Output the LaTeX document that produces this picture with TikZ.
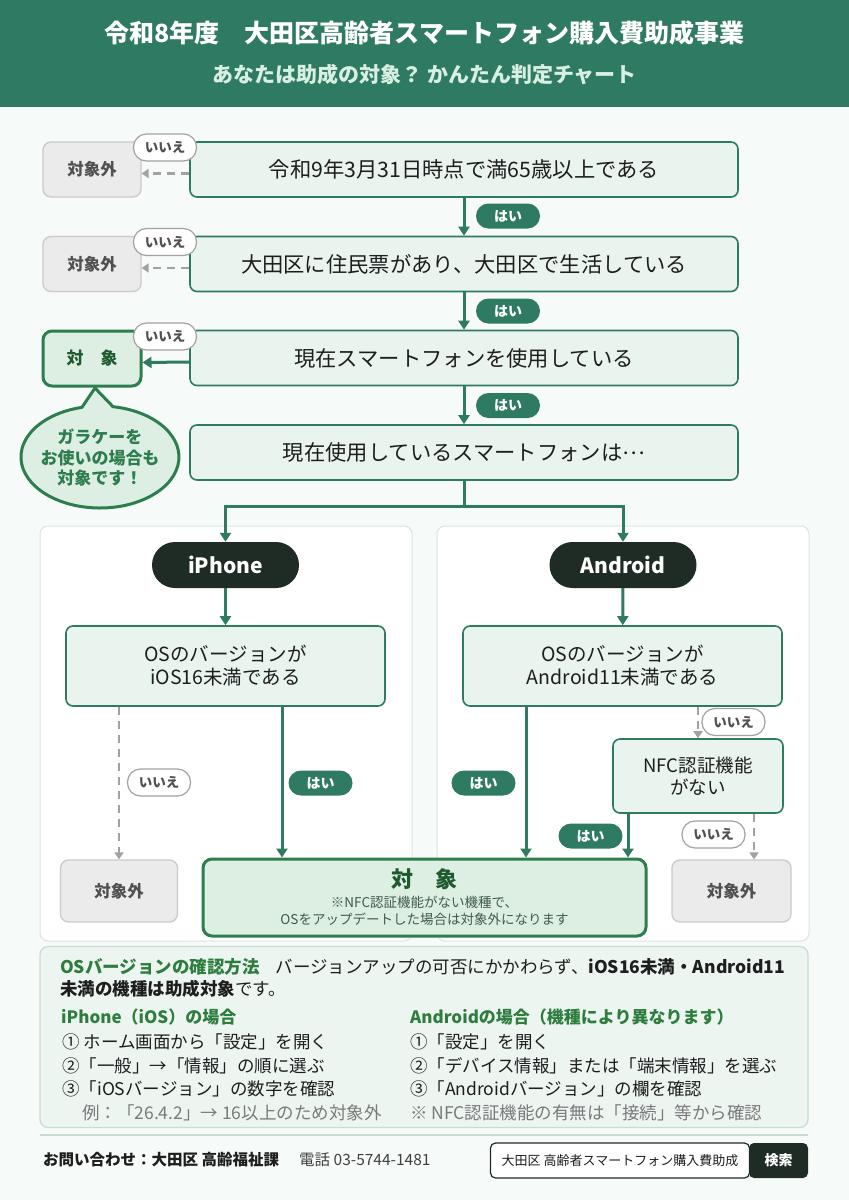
\documentclass[tikz,border=0pt]{standalone}
\usepackage{fontspec}
\setmainfont{Noto Sans CJK JP}
\usetikzlibrary{arrows.meta,shapes.geometric}
\definecolor{hdr}{HTML}{2F7A62}
\definecolor{bg}{HTML}{F6FAF8}
\definecolor{boxfill}{HTML}{E9F4EE}
\definecolor{ink}{HTML}{1E1E1E}
\definecolor{subt}{HTML}{D8EFE3}
\definecolor{grayfill}{HTML}{EBEBEB}
\definecolor{graybd}{HTML}{CACACA}
\definecolor{graytxt}{HTML}{505050}
\definecolor{grayarr}{HTML}{A2A2A2}
\definecolor{okfill}{HTML}{DDEFE2}
\definecolor{okbd}{HTML}{2E7D4F}
\definecolor{oktxt}{HTML}{1F5A2E}
\definecolor{dark}{HTML}{1F2B25}
\definecolor{panelbd}{HTML}{DCE4DF}
\definecolor{infofill}{HTML}{EDF5F1}
\definecolor{infobd}{HTML}{C8DDD2}
\definecolor{hg}{HTML}{2E7D3E}
\definecolor{notetxt}{HTML}{3F5C4B}
\definecolor{exgray}{HTML}{7A7A7A}
\tikzset{
  q/.style={draw=hdr, line width=1.6pt, fill=boxfill, rounded corners=7pt, inner sep=0pt,
    text=ink, font=\fontsize{21.3}{26}\selectfont, align=center},
  qs/.style={q, font=\fontsize{19.5}{23}\selectfont},
  outbox/.style={draw=graybd, line width=1.3pt, fill=grayfill, rounded corners=8pt, inner sep=0pt,
    text=graytxt, font=\bfseries\fontsize{16.5}{20}\selectfont},
  okbox/.style={draw=okbd, line width=3pt, fill=okfill, rounded corners=9pt, inner sep=0pt},
  nolab/.style={draw=grayarr, line width=1.2pt, fill=white, rounded corners=13pt, inner sep=0pt,
    minimum width=63pt, minimum height=27pt, text=graytxt, font=\bfseries\fontsize{13.5}{16}\selectfont},
  yeslab/.style={fill=hdr, rounded corners=12.5pt, inner sep=0pt,
    minimum width=64pt, minimum height=25pt, text=white, font=\bfseries\fontsize{14}{16}\selectfont},
  devpill/.style={fill=dark, rounded corners=23pt, inner sep=0pt, minimum width=147pt, minimum height=46pt,
    text=white, font=\bfseries\fontsize{21}{25}\selectfont},
  panel/.style={draw=panelbd, line width=1pt, fill=white, rounded corners=8pt, inner sep=0pt},
  arr/.style={draw=hdr, line width=3pt, -{Triangle[length=9pt,width=11pt]}},
  gline/.style={draw=hdr, line width=3pt},
  darr/.style={draw=grayarr, line width=2.5pt, dash pattern=on 8pt off 6pt, -{Triangle[length=7pt,width=9pt]}},
  infotxt/.style={anchor=west, inner sep=0pt, text=ink, font=\fontsize{17.5}{21}\selectfont},
}
\begin{document}
\begin{tikzpicture}[x=1pt,y=-1pt]
\useasboundingbox (0,0) rectangle (849,1200);
\fill[bg] (0,0) rectangle (849,1200);
\fill[hdr] (0,0) rectangle (849,107);
\node[font=\bfseries\fontsize{25}{30}\selectfont, text=white] (title) at (424.5,33) {令和8年度　大田区高齢者スマートフォン購入費助成事業};
\node[font=\bfseries\fontsize{21}{25}\selectfont, text=subt] (sub) at (424.5,75) {あなたは助成の対象？ かんたん判定チャート};

% panels
\node[panel, minimum width=372pt, minimum height=415pt] (pL) at (226,733.5) {};
\node[panel, minimum width=372pt, minimum height=415pt] (pR) at (623,733.5) {};

% main questions
\node[q, minimum width=548pt, minimum height=55pt] (b1) at (464,169.5) {令和9年3月31日時点で満65歳以上である};
\node[q, minimum width=548pt, minimum height=55pt] (b2) at (464,264) {大田区に住民票があり、大田区で生活している};
\node[q, minimum width=548pt, minimum height=55pt] (b3) at (464,358) {現在スマートフォンを使用している};
\node[q, minimum width=548pt, minimum height=55pt] (b4) at (464,452.5) {現在使用しているスマートフォンは\raisebox{0.3em}{…}};

\node[outbox, minimum width=98pt, minimum height=55pt] (o1) at (92,169.5) {対象外};
\node[outbox, minimum width=98pt, minimum height=55pt] (o2) at (92,264) {対象外};
\node[okbox, minimum width=98pt, minimum height=55pt, text=oktxt, font=\bfseries\fontsize{17}{20}\selectfont] (t3) at (92,358.5) {対　象};

\draw[darr] ([yshift=-4pt]b1.west) -- ([yshift=-4pt]o1.east);
\draw[darr] ([yshift=-4pt]b2.west) -- ([yshift=-4pt]o2.east);
\draw[arr] ([yshift=-4pt]b3.west) -- ([yshift=-4pt]t3.east);

\node[nolab] (n1) at (165,147.5) {いいえ};
\node[nolab] (n2) at (165,242) {いいえ};
\node[nolab] (n3) at (165,336.5) {いいえ};

\draw[arr] (b1) -- (b2);
\draw[arr] (b2) -- (b3);
\draw[arr] (b3) -- (b4);
\node[yeslab] (y1) at (508,216) {はい};
\node[yeslab] (y2) at (508,311) {はい};
\node[yeslab] (y3) at (508,405.5) {はい};

% speech bubble
\filldraw[fill=okfill, draw=okbd, line width=3pt, line join=round]
  (82,407.3) -- (95,388) coordinate (tip) -- (113,406.7)
  arc[start angle=279.5, end angle=616.8, x radius=79, y radius=51] -- cycle;
\node[align=center, text=okbd, font=\bfseries\fontsize{17}{20.5}\selectfont] (bub) at (100,458) {ガラケーを\\お使いの場合も\\対象です！};

% branch
\coordinate (jl) at (225.5,506);
\coordinate (jr) at (623,506);
\node[devpill] (iph) at (225.5,565) {iPhone};
\node[devpill] (and) at (623,565) {Android};
\draw[arr] (b4.south) |- (jl) -- (iph.north);
\draw[arr] (b4.south) |- (jr) -- (and.north);

% iPhone side
\node[qs, minimum width=319pt, minimum height=80pt] (ios) at (225.5,666) {OSのバージョンが\\iOS16未満である};
\draw[arr] (iph) -- (ios);
\node[outbox, minimum width=117pt, minimum height=62pt] (o4) at (119,891) {対象外};
\node[okbox, minimum width=443pt, minimum height=77pt] (ok) at (424.5,897.5) {};
\node[text=oktxt, font=\bfseries\fontsize{22}{26}\selectfont] (okt) at (424.5,879) {対　象};
\node[align=center, text=notetxt, font=\fontsize{13.5}{17}\selectfont] (okn) at (424.5,910.5) {※NFC認証機能がない機種で、\\OSをアップデートした場合は対象外になります};

\draw[darr] (ios.south -| o4.north) -- (o4.north);
\draw[arr] (ios.south -| 282,0) -- (ok.north -| 282,0);
\node[nolab] (n4) at (159,782.5) {いいえ};
\node[yeslab] (y4) at (320.5,783) {はい};

% Android side
\node[qs, minimum width=319pt, minimum height=80pt] (aos) at (622.5,666) {OSのバージョンが\\Android11未満である};
\draw[arr] (and) -- (aos);
\node[qs, minimum width=170pt, minimum height=74pt, font=\fontsize{18.5}{22}\selectfont] (nfc) at (698,776) {NFC認証機能\\がない};
\node[outbox, minimum width=119pt, minimum height=62pt] (o5) at (731.5,891) {対象外};

\draw[arr] (aos.south -| 526,0) -- (ok.north -| 526,0);
\draw[darr] (aos.south -| nfc.north) -- (nfc.north);
\draw[arr] (nfc.south -| 628,0) -- (ok.north -| 628,0);
\draw[darr] (nfc.south -| 754,0) -- (o5.north -| 754,0);
\node[yeslab] (y5) at (483.5,783) {はい};
\node[nolab] (n5) at (733.5,722) {いいえ};
\node[yeslab] (y6) at (590.5,836) {はい};
\node[nolab] (n6) at (713.5,834.5) {いいえ};

% info box
\node[draw=infobd, line width=1.3pt, fill=infofill, rounded corners=8pt, minimum width=768pt, minimum height=181pt] (info) at (424,1037) {};
\node[infotxt] (i1) at (60,967) {\textcolor{hg}{\bfseries OSバージョンの確認方法}\hspace{0.9em}バージョンアップの可否にかかわらず、\textbf{iOS16未満・Android11}};
\node[infotxt] (i2) at (60,989) {\textbf{未満の機種は助成対象}です。};
\node[infotxt, text=hg, font=\bfseries\fontsize{17}{20}\selectfont] (h1) at (61,1017) {iPhone（iOS）の場合};
\node[infotxt, text=hg, font=\bfseries\fontsize{17}{20}\selectfont] (h2) at (410,1017) {Androidの場合（機種により異なります）};
\node[infotxt] (a1) at (62,1042) {① ホーム画面から「設定」を開く};
\node[infotxt] (a2) at (62,1066) {②「一般」→「情報」の順に選ぶ};
\node[infotxt] (a3) at (62,1089) {③「iOSバージョン」の数字を確認};
\node[infotxt, text=exgray] (a4) at (82,1113) {例：「26.4.2」→ 16以上のため対象外};
\node[infotxt] (c1) at (410,1042) {①「設定」を開く};
\node[infotxt] (c2) at (410,1066) {②「デバイス情報」または「端末情報」を選ぶ};
\node[infotxt] (c3) at (410,1089) {③「Androidバージョン」の欄を確認};
\node[infotxt, text=exgray] (c4) at (410,1113) {※ NFC認証機能の有無は「接続」等から確認};

% footer
\draw[infobd, line width=1.5pt] (40,1135) -- (808,1135);
\node[anchor=west, inner sep=0pt, text=ink, font=\bfseries\fontsize{15.5}{18}\selectfont] (f1) at (43,1160) {お問い合わせ：大田区 高齢福祉課};
\node[anchor=west, inner sep=0pt, text=ink!85, font=\fontsize{15.5}{18}\selectfont] (f2) at (299,1160) {電話 03-5744-1481};
\node[draw=dark, line width=1.2pt, fill=white, rounded corners=5pt, minimum width=259pt, minimum height=35pt, inner sep=0pt, text=ink, font=\fontsize{13}{16}\selectfont] (sb) at (620,1160.5) {大田区 高齢者スマートフォン購入費助成};
\node[fill=dark, rounded corners=5pt, minimum width=59pt, minimum height=35pt, inner sep=0pt, text=white, font=\bfseries\fontsize{14}{16}\selectfont] (go) at (778.5,1160.5) {検索};
\end{tikzpicture}
\end{document}
